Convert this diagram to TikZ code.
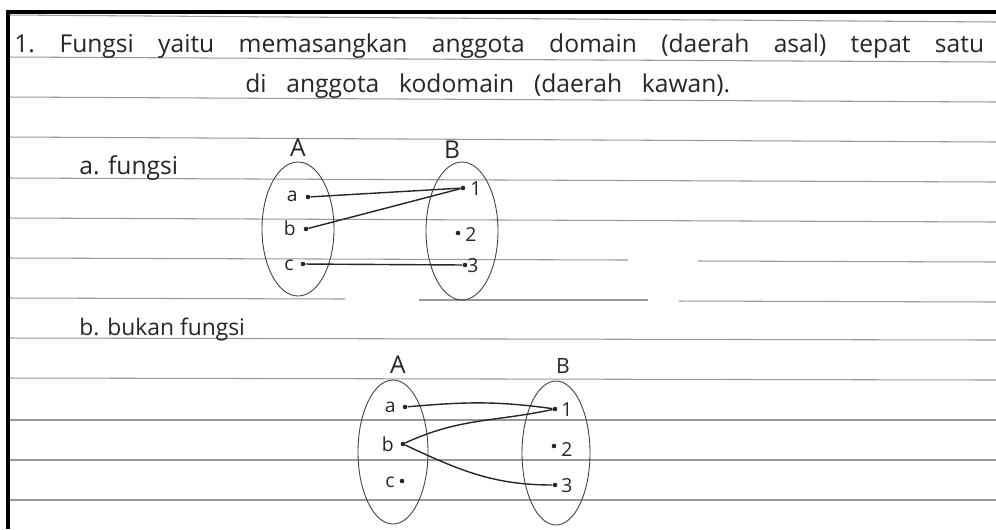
\documentclass[tikz,border=0pt]{standalone}
\usepackage{fontspec}
\setmainfont{Open Sans}

\begin{document}
\begin{tikzpicture}[
    x=0.02cm,
    y=-0.02cm,
    every node/.style={font=\fontsize{14}{17}\selectfont, text=black!85, inner sep=0pt},
    rule/.style={draw=black!40, line width=0.6pt},
    border/.style={draw=black, line width=1.8pt},
    set/.style={draw=black!75, line width=0.5pt},
    elem/.style={circle, fill=black!85, minimum size=2.6pt, inner sep=0pt},
    map/.style={draw=black!85, line width=0.8pt},
    setlabel/.style={font=\fontsize{14}{16}\selectfont},
    elemlabel/.style={font=\fontsize{11}{13}\selectfont}
  ]
    \useasboundingbox (0,0) rectangle (996,529);

    % ruled paper
    \foreach \yl/\yr in {15/22, 57/62, 97/102, 137/142, 178/182, 218/222,
                         338/340, 378/380, 420/420, 460/460, 500/500}
      \draw[rule] (8,\yl) -- (996,\yr);
    \draw[rule] (8,258) -- (628,260);
    \draw[rule] (698,261) -- (996,262);
    \draw[rule] (8,298) -- (345,299);
    \draw[rule] (419,300) -- (648,300);
    \draw[rule] (679,301) -- (996,302);
    \draw[border] (8,529) -- (8,12) -- (996,12);

    \node[anchor=base west] (def1) at (14,52)
      {\makebox[19.4cm][s]{1.\hspace{14pt}Fungsi yaitu memasangkan anggota domain (daerah asal) tepat satu}};
    \node[anchor=base west] (def2) at (245,92)
      {\makebox[9.7cm][s]{di anggota kodomain (daerah kawan).}};

    % a. fungsi
    \node[anchor=base west] (parta) at (79,174) {a. fungsi};
    \draw[set] (298,229) ellipse [x radius=36, y radius=67];
    \draw[set] (462,231) ellipse [x radius=36, y radius=69];
    \node[setlabel] (fA) at (298,148) {A};
    \node[setlabel] (fB) at (452,150) {B};

    \node[elem] (fa) at (308,197) {};
    \node[elem] (fb) at (306,229) {};
    \node[elem] (fc) at (303,264) {};
    \node[elem] (f1) at (463,188) {};
    \node[elem] (f2) at (458,233) {};
    \node[elem] (f3) at (465,265) {};
    \node[elemlabel, anchor=east] (fa-lbl) at (298,196) {a};
    \node[elemlabel, anchor=east] (fb-lbl) at (296,228) {b};
    \node[elemlabel, anchor=east] (fc-lbl) at (294,265) {c};
    \node[elemlabel, anchor=west] (f1-lbl) at (470,189) {1};
    \node[elemlabel, anchor=west] (f2-lbl) at (465,234) {2};
    \node[elemlabel, anchor=west] (f3-lbl) at (467,266) {3};

    \draw[map] (fa) -- (f1);
    \draw[map] (fb) -- (f1);
    \draw[map] (fc) -- (f3);

    % b. bukan fungsi
    \node[anchor=base west, font=\fontsize{13}{16}\selectfont] (partb) at (79,335) {b. bukan fungsi};
    \draw[set] (393,452) ellipse [x radius=35, y radius=72];
    \draw[set] (556,453) ellipse [x radius=34, y radius=72];
    \node[setlabel] (nA) at (398,365) {A};
    \node[setlabel, font=\fontsize{12}{14}\selectfont] (nB) at (563,366) {B};

    \node[elem] (na) at (405,407) {};
    \node[elem] (nb) at (403,444) {};
    \node[elem] (nc) at (402,481) {};
    \node[elem] (n1) at (555,409) {};
    \node[elem] (n2) at (554,446) {};
    \node[elem] (n3) at (555,485) {};
    \node[elemlabel, anchor=east] (na-lbl) at (396,407) {a};
    \node[elemlabel, anchor=east] (nb-lbl) at (394,444) {b};
    \node[elemlabel, anchor=east] (nc-lbl) at (395,482) {c};
    \node[elemlabel, anchor=west] (n1-lbl) at (561,410) {1};
    \node[elemlabel, anchor=west] (n2-lbl) at (561,449) {2};
    \node[elemlabel, anchor=west] (n3-lbl) at (561,486) {3};

    \draw[map] (na) to[out=5, in=172] (n1);
    \draw[map] (nb) to[out=25, in=192] (n1);
    \draw[map] (nb) to[out=-25, in=180] (n3);
  \end{tikzpicture}
\end{document}
